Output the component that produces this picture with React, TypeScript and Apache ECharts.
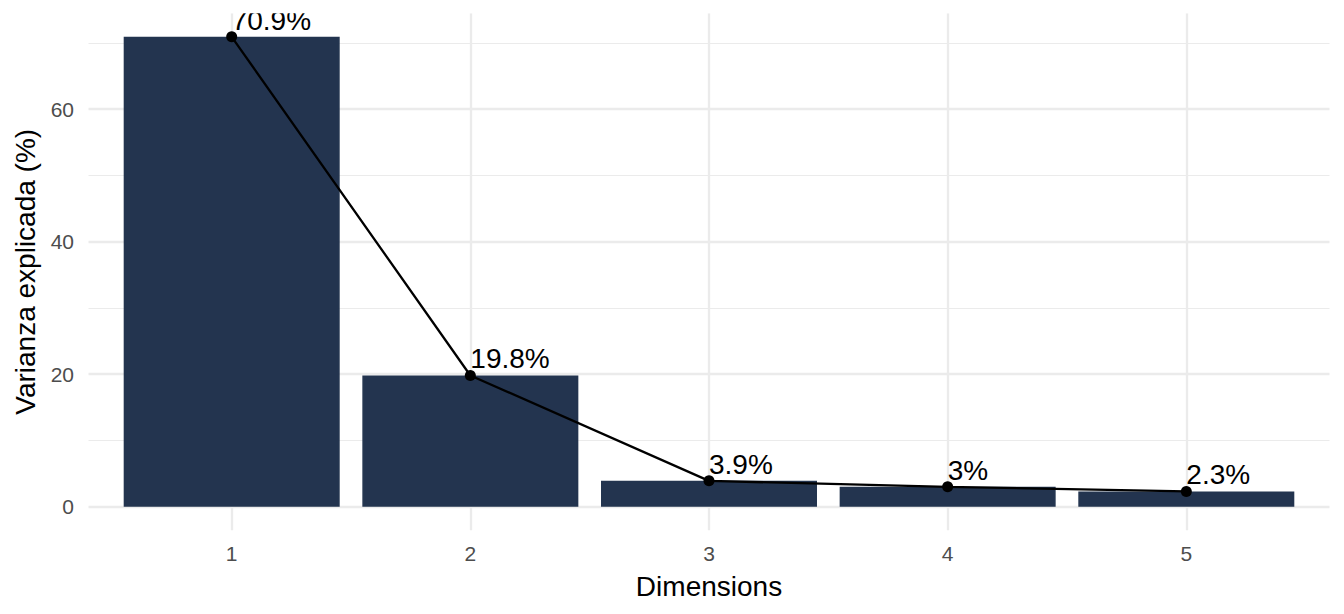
import React, { useEffect, useRef } from "react";
import * as echarts from "echarts";

const dimensions = [1, 2, 3, 4, 5];
const variance = [70.9, 19.8, 3.9, 3, 2.3];
const varianceLabels = ["70.9%", "19.8%", "3.9%", "3%", "2.3%"];
const yTicks = [0, 20, 40, 60];
const yMinor = [10, 30, 50, 70];
const xTicks = [1, 2, 3, 4, 5];

const FONT = "'Liberation Sans', Arial, Helvetica, sans-serif";
const BAR = "#23344F";
const GRID = "#EBEBEB";

export default function App() {
  const ref = useRef<HTMLDivElement>(null);
  useEffect(() => {
    if (!ref.current) return;
    const chart = echarts.init(ref.current, undefined, { renderer: "svg" });
    const ymax = Math.max(...variance);
    const pad = ymax * 0.05;
    const option: any = {
      animation: false,
      backgroundColor: "#FFFFFF",
      textStyle: { fontFamily: FONT },
      grid: {
        left: 88.5,
        right: 14.5,
        top: 13.3,
        bottom: 83.8,
        containLabel: false,
        outerBoundsMode: "none",
      },
      graphic: [
        {
          type: "rect",
          z: 100,
          silent: true,
          shape: { x: 0, y: 0, width: 1344, height: 13.3 },
          style: { fill: "#FFFFFF" },
        },
      ],
      xAxis: {
        type: "value",
        min: 0.4,
        max: 5.6,
        name: "Dimensions",
        nameLocation: "middle",
        nameGap: 42,
        nameTextStyle: { fontSize: 28, color: "#000000", fontFamily: FONT },
        axisLine: { show: false },
        axisTick: { show: false, customValues: xTicks },
        splitLine: { show: false },
        axisLabel: {
          customValues: xTicks,
          fontSize: 21,
          color: "#4D4D4D",
          margin: 13,
          fontFamily: FONT,
        },
      },
      yAxis: {
        type: "value",
        min: -pad,
        max: ymax + pad,
        name: "Varianza explicada (%)",
        nameLocation: "middle",
        nameGap: 48,
        nameRotate: 90,
        nameTextStyle: { fontSize: 28, color: "#000000", fontFamily: FONT },
        axisLine: { show: false },
        axisTick: { show: false, customValues: yTicks },
        splitLine: { show: false },
        axisLabel: {
          customValues: yTicks,
          fontSize: 21,
          color: "#4D4D4D",
          margin: 14.5,
          fontFamily: FONT,
        },
      },
      series: [
        {
          type: "line",
          data: [],
          z: 0,
          silent: true,
          markLine: {
            silent: true,
            z: 0,
            symbol: "none",
            label: { show: false },
            data: [
              ...yMinor.map((v) => ({ yAxis: v, lineStyle: { color: GRID, width: 1.2, type: "solid" } })),
              ...yTicks.map((v) => ({ yAxis: v, lineStyle: { color: GRID, width: 2.3, type: "solid" } })),
              ...xTicks.map((v) => ({ xAxis: v, lineStyle: { color: GRID, width: 2.3, type: "solid" } })),
            ],
          },
        },
        {
          type: "bar",
          z: 2,
          barWidth: 216,
          data: dimensions.map((d, i) => [d, variance[i]]),
          itemStyle: { color: BAR, borderColor: BAR, borderWidth: 1.5 },
        },
        {
          type: "line",
          z: 3,
          data: dimensions.map((d, i) => [d, variance[i]]),
          symbol: "circle",
          symbolSize: 11,
          lineStyle: { color: "#000000", width: 2.3 },
          itemStyle: { color: "#000000" },
          label: {
            show: true,
            position: "top",
            align: "left",
            verticalAlign: "bottom",
            distance: 0,
            offset: [0, 3],
            fontSize: 28,
            color: "#000000",
            fontFamily: FONT,
            formatter: (p: any) => varianceLabels[p.dataIndex],
          },
        },
      ],
    };
    chart.setOption(option);
    return () => chart.dispose();
  }, []);
  return (
    <div
      ref={ref}
      style={{ position: "fixed", left: 0, top: 0, width: 1344, height: 614 }}
    />
  );
}
